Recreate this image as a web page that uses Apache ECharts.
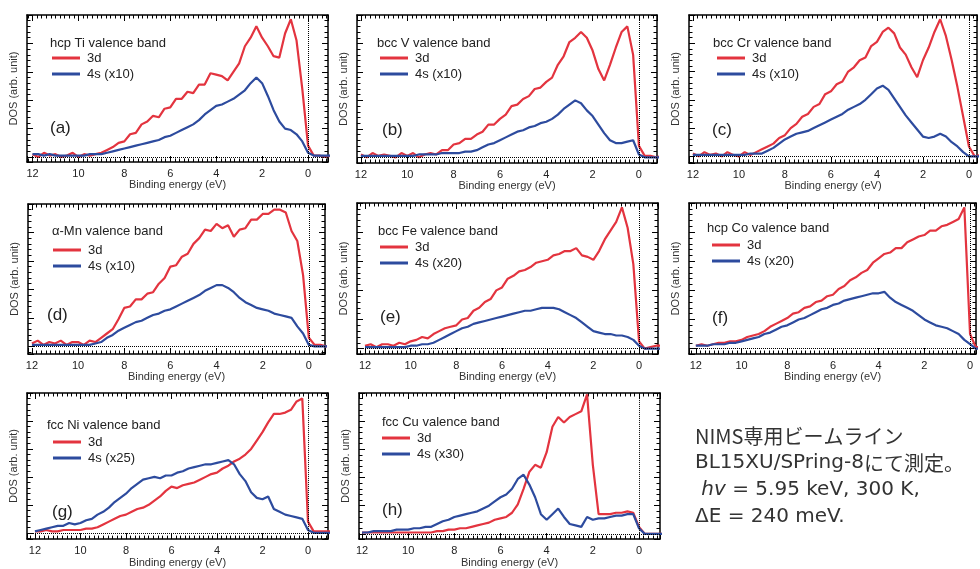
<!DOCTYPE html>
<html>
<head>
<meta charset="utf-8">
<script src="https://cdn.jsdelivr.net/npm/echarts@6/dist/echarts.min.js"></script>
<style>
  html, body { margin: 0; background: #fff; }
  #chart { width: 980px; height: 569px; }
</style>
</head>
<body>
<div id="chart"></div>
<script>
// binding energy grid (eV), shared by every spectrum
const energies = [12, 11.75, 11.5, 11.25, 11, 10.75, 10.5, 10.25, 10, 9.75, 9.5, 9.25,
  9, 8.75, 8.5, 8.25, 8, 7.75, 7.5, 7.25, 7, 6.75, 6.5, 6.25, 6, 5.75, 5.5, 5.25,
  5, 4.75, 4.5, 4.25, 4, 3.75, 3.5, 3.25, 3, 2.75, 2.5, 2.25, 2, 1.75, 1.5, 1.25,
  1, 0.75, 0.5, 0.25, 0, -0.25, -0.5, -0.75, -1]

// 3d / 4s partial DOS (arb. unit, peak ~100)
const ti3d = [2, 0, 3, 1, 2, 0, 1, 3, 0, 2, 1, 2, 3, 5, 7, 10, 11, 16, 17, 23, 25, 29, 28, 34,
  35, 41, 41, 46, 45, 51, 51, 59, 58, 57, 54, 60, 66, 78, 84, 92, 84, 78, 71, 70, 87, 97, 82, 48, 8, 1, 1, 0, 1]
const ti4s = [2, 2, 1, 2, 1, 1, 1, 1, 1, 1, 2, 2, 2, 3, 4, 5, 6, 7, 8, 9, 10, 11, 12, 14,
  15, 17, 19, 21, 23, 26, 30, 33, 36, 37, 39, 41, 44, 47, 52, 56, 52, 43, 33, 25, 20, 19, 16, 11, 3, 1, 1, 1, 1]

const v3d = [2, 0, 3, 1, 2, 1, 0, 3, 1, 3, 0, 2, 3, 2, 5, 5, 9, 10, 13, 13, 16, 18, 23, 23,
  27, 30, 36, 37, 41, 43, 48, 49, 53, 56, 65, 71, 81, 84, 88, 84, 75, 62, 54, 65, 77, 88, 92, 72, 8, 1, 1, 0, 1]
const v4s = [1, 1, 1, 1, 1, 1, 1, 1, 1, 1, 2, 2, 2, 2, 3, 3, 3, 3, 4, 4, 5, 7, 9, 10,
  12, 14, 16, 18, 19, 21, 22, 24, 25, 27, 30, 34, 37, 40, 38, 33, 29, 23, 17, 12, 10, 10, 11, 12, 2, 0, 0, 0, 0]

const cr3d = [2, 0, 3, 1, 2, 0, 3, 1, 0, 3, 1, 3, 5, 7, 9, 13, 15, 20, 23, 28, 30, 35, 37, 44,
  46, 51, 53, 60, 63, 68, 70, 78, 81, 88, 91, 87, 77, 72, 63, 56, 68, 77, 88, 97, 85, 68, 49, 28, 7, 0, 1, 0, 0]
const cr4s = [1, 1, 1, 1, 1, 1, 1, 1, 1, 1, 2, 2, 2, 4, 6, 9, 12, 14, 16, 17, 18, 20, 22, 24,
  26, 28, 30, 33, 35, 37, 40, 44, 48, 50, 47, 41, 35, 29, 24, 19, 14, 13, 14, 16, 14, 10, 7, 3, 0, 0, 0, 0, 0]

const mn3d = [2, 4, 1, 3, 2, 4, 1, 3, 3, 1, 4, 3, 6, 9, 12, 19, 27, 28, 33, 33, 37, 38, 44, 48,
  56, 57, 63, 65, 72, 76, 82, 81, 86, 83, 85, 77, 82, 83, 89, 89, 93, 93, 96, 96, 94, 81, 74, 50, 6, 1, 1, 0, 1]
const mn4s = [1, 1, 1, 1, 1, 1, 1, 1, 1, 1, 1, 2, 3, 6, 8, 11, 13, 15, 17, 18, 20, 22, 23, 25,
  26, 28, 30, 32, 34, 36, 39, 41, 43, 43, 41, 38, 34, 31, 29, 27, 26, 25, 23, 22, 21, 20, 14, 9, 1, 0, 0, 0, 0]

const fe3d = [2, 3, 1, 3, 3, 2, 4, 3, 5, 6, 8, 7, 10, 12, 14, 15, 16, 20, 21, 26, 28, 32, 34, 40,
  42, 48, 50, 53, 54, 56, 59, 60, 61, 64, 65, 67, 67, 69, 64, 63, 61, 67, 75, 81, 87, 97, 83, 58, 5, 0, 1, 2, 2]
const fe4s = [1, 1, 1, 1, 1, 1, 1, 1, 2, 2, 3, 3, 4, 6, 8, 10, 12, 14, 15, 17, 18, 19, 20, 21,
  22, 23, 24, 25, 26, 26, 27, 28, 28, 28, 27, 25, 23, 21, 18, 15, 12, 11, 10, 10, 9, 9, 8, 6, 2, 0, 0, 0, 0]

const co3d = [2, 3, 2, 3, 4, 4, 5, 5, 6, 8, 9, 10, 12, 15, 17, 19, 21, 24, 25, 28, 29, 32, 33, 36,
  37, 41, 43, 47, 49, 52, 54, 59, 62, 65, 66, 69, 69, 73, 75, 77, 78, 81, 81, 84, 85, 87, 89, 97, 10, 1, 1, 1, 1]
const co4s = [2, 2, 2, 3, 3, 3, 4, 4, 5, 6, 7, 8, 10, 11, 13, 15, 16, 18, 20, 21, 23, 25, 27, 28,
  30, 31, 33, 34, 35, 36, 37, 38, 38, 39, 35, 32, 30, 28, 26, 23, 20, 18, 16, 15, 14, 12, 10, 6, 3, 0, 0, 0, 0]

const ni3d = [1, 1, 2, 1, 1, 2, 2, 2, 2, 3, 3, 4, 6, 8, 10, 12, 13, 15, 17, 18, 20, 23, 26, 30,
  33, 32, 34, 35, 36, 38, 40, 42, 43, 46, 48, 51, 53, 56, 60, 66, 72, 79, 85, 85, 86, 88, 94, 96, 8, 1, 1, 1, 1]
const ni4s = [1, 2, 3, 4, 5, 5, 7, 6, 7, 9, 10, 13, 15, 18, 22, 25, 28, 32, 35, 38, 39, 40, 39, 41,
  41, 43, 44, 46, 47, 48, 49, 49, 50, 51, 52, 49, 42, 37, 29, 25, 24, 26, 17, 15, 13, 12, 11, 10, 2, 0, 0, 0, 0]

const cu3d = [1, 1, 1, 1, 1, 1, 1, 1, 1, 1, 1, 1, 1, 2, 2, 3, 3, 4, 4, 5, 6, 7, 8, 10,
  11, 12, 15, 21, 32, 44, 49, 47, 58, 76, 83, 79, 83, 85, 87, 99, 49, 14, 14, 14, 15, 15, 16, 15, 5, 0, 0, 0, 0]
const cu4s = [1, 1, 2, 2, 2, 2, 3, 3, 3, 4, 4, 5, 5, 7, 9, 10, 12, 13, 14, 15, 16, 18, 20, 23,
  26, 28, 32, 39, 42, 35, 26, 14, 10, 14, 18, 12, 7, 6, 5, 12, 10, 11, 11, 12, 13, 13, 14, 14, 4, 0, 0, 0, 0]

const panelTitles = ['hcp Ti valence band', 'bcc V valence band', 'bcc Cr valence band', 'α-Mn valence band',
  'bcc Fe valence band', 'hcp Co valence band', 'fcc Ni valence band', 'fcc Cu valence band']
const panelLetters = ['(a)', '(b)', '(c)', '(d)', '(e)', '(f)', '(g)', '(h)']
const sNames = ['4s (x10)', '4s (x10)', '4s (x10)', '4s (x10)', '4s (x20)', '4s (x20)', '4s (x25)', '4s (x30)']
const dSeries = [ti3d, v3d, cr3d, mn3d, fe3d, co3d, ni3d, cu3d]
const sSeries = [ti4s, v4s, cr4s, mn4s, fe4s, co4s, ni4s, cu4s]

// panel boxes in pixels + visible energy window
const boxes = [
  { left: 27, top: 15, width: 301, height: 147, xMin: -0.87, xMax: 12.24, yMin: -3.5 },
  { left: 357, top: 15, width: 300, height: 148, xMin: -0.78, xMax: 12.17, yMin: -4 },
  { left: 689, top: 15, width: 288, height: 148, xMin: -0.35, xMax: 12.17, yMin: -4.7 },
  { left: 28, top: 204, width: 297, height: 150, xMin: -0.7, xMax: 12.17, yMin: -5.4 },
  { left: 357, top: 203, width: 301, height: 151, xMin: -0.83, xMax: 12.35, yMin: -3.7 },
  { left: 689, top: 203, width: 287, height: 151, xMin: -0.26, xMax: 12.3, yMin: -3.7 },
  { left: 27, top: 393, width: 301, height: 154, xMin: -0.88, xMax: 12.35, yMin: -4.5 },
  { left: 359, top: 393, width: 301, height: 151, xMin: -0.91, xMax: 12.13, yMin: -3.7 }
]
const titlePos = [[50, 43], [377, 43], [713, 43], [52, 231], [378, 231], [707, 228], [47, 425], [382, 422]]
const legendPos = [[52, 51], [380, 51], [717, 51], [53, 243], [380, 240], [712, 238], [53, 435], [382, 431]]
const letterPos = [[50, 128], [382, 130], [712, 130], [47, 315], [380, 317], [712, 318], [52, 512], [382, 510]]

const RED = '#e3343f'
const BLUE = '#2d4b9e'
const FONT = '"Liberation Sans", Arial, sans-serif'

const grids = [], xAxes = [], yAxes = [], series = [], legends = [], graphics = []

const frameAxis = {
  axisLine: { show: true, onZero: false, lineStyle: { color: '#000', width: 1.5 } },
  splitLine: { show: false }
}

boxes.forEach((b, i) => {
  grids.push({ left: b.left, top: b.top, width: b.width, height: b.height })

  // bottom + top energy axes
  ;['bottom', 'top'].forEach(pos => {
    xAxes.push({
      ...frameAxis,
      type: 'value', gridIndex: i, position: pos, inverse: true,
      min: b.xMin, max: b.xMax, splitNumber: 6,
      axisTick: { show: true, inside: true, length: 6, lineStyle: { color: '#000', width: 1 } },
      minorTick: { show: true, splitNumber: 10, length: 3.5, lineStyle: { color: '#000', width: 1 } },
      axisLabel: {
        show: pos === 'bottom', margin: 6, fontSize: 11, color: '#222', fontFamily: FONT,
        showMinLabel: false, showMaxLabel: false
      },
      name: pos === 'bottom' ? 'Binding energy (eV)' : '',
      nameLocation: 'middle', nameGap: 17,
      nameTextStyle: { fontSize: 11, color: '#333', fontFamily: FONT }
    })
  })
  // left + right DOS axes
  ;['left', 'right'].forEach(pos => {
    yAxes.push({
      ...frameAxis,
      type: 'value', gridIndex: i, position: pos,
      min: b.yMin, max: 100,
      axisTick: { show: true, inside: true, length: 6, lineStyle: { color: '#000', width: 1 } },
      minorTick: { show: true, splitNumber: 5, length: 3.5, lineStyle: { color: '#000', width: 1 } },
      axisLabel: { show: false },
      name: pos === 'left' ? 'DOS (arb. unit)' : '',
      nameLocation: 'middle', nameGap: 8,
      nameTextStyle: { fontSize: 11, color: '#333', fontFamily: FONT }
    })
  })

  series.push({
    name: '3d', type: 'line', xAxisIndex: 2 * i, yAxisIndex: 2 * i,
    data: energies.map((e, k) => [e, dSeries[i][k]]),
    showSymbol: false, lineStyle: { color: RED, width: 2.2 }, itemStyle: { color: RED },
    silent: true,
    markLine: {
      silent: true, symbol: 'none', label: { show: false },
      lineStyle: { color: '#000', type: 'dotted', width: 1 },
      data: [{ yAxis: 0 }, { xAxis: 0 }]
    }
  })
  series.push({
    name: sNames[i], type: 'line', xAxisIndex: 2 * i, yAxisIndex: 2 * i,
    data: energies.map((e, k) => [e, sSeries[i][k]]),
    showSymbol: false, lineStyle: { color: BLUE, width: 2.2 }, itemStyle: { color: BLUE },
    silent: true
  })

  legends.push({
    orient: 'vertical', left: legendPos[i][0], top: legendPos[i][1], padding: 0,
    data: ['3d', sNames[i]], icon: 'rect', itemWidth: 28, itemHeight: 3, itemGap: 2,
    selectedMode: false,
    textStyle: { fontSize: 13, lineHeight: 14, color: '#222', fontFamily: FONT, padding: [0, 0, 0, 2] }
  })

  graphics.push({
    type: 'text', x: titlePos[i][0], y: titlePos[i][1],
    style: { text: panelTitles[i], font: '13px ' + FONT, fill: '#222', verticalAlign: 'middle' }
  })
  graphics.push({
    type: 'text', x: letterPos[i][0], y: letterPos[i][1],
    style: { text: panelLetters[i], font: '17px ' + FONT, fill: '#222', verticalAlign: 'middle' }
  })
})

// measurement note (latin parts in a wider face, kana/kanji in Noto CJK)
const CJK = '"Noto Sans CJK JP", sans-serif'
const LAT = '"DejaVu Sans", sans-serif'
const noteLines = [
  '{c|NIMS専用ビームライン}',
  '{l|BL15XU/SPring-8}{c|にて測定。}',
  '{l| }{li|hv}{l| = 5.95 keV, 300 K,}',
  '{l|ΔE = 240 meV.}'
]
noteLines.forEach((t, k) => {
  graphics.push({
    type: 'text', x: 695, y: 436 + 27 * k,
    style: {
      text: t, fill: '#333', verticalAlign: 'middle',
      rich: {
        c: { fontSize: 20, fontFamily: CJK, color: '#333' },
        l: { fontSize: 20, fontFamily: LAT, color: '#333' },
        li: { fontSize: 20, fontFamily: LAT, fontStyle: 'italic', color: '#333' }
      }
    }
  })
})

const chart = echarts.init(document.getElementById('chart'))
chart.setOption({
  animation: false,
  backgroundColor: '#fff',
  grid: grids,
  xAxis: xAxes,
  yAxis: yAxes,
  legend: legends,
  series: series,
  graphic: graphics
})
</script>
</body>
</html>
